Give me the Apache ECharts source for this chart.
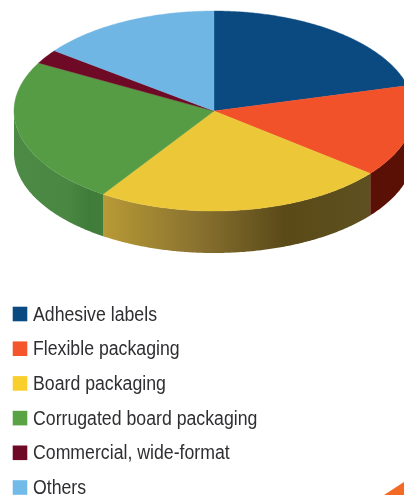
<!DOCTYPE html>
<html><head><meta charset="utf-8">
<style>html,body{margin:0;padding:0;background:#fff;overflow:hidden}#c{width:404px;height:495px}</style>
<script src="https://cdn.jsdelivr.net/npm/echarts@6/dist/echarts.min.js"></script>
</head><body><div id="c"></div>
<script>
const categories = ['Adhesive labels','Flexible packaging','Board packaging','Corrugated board packaging','Commercial, wide-format','Others'];
const shares = [20.9,14.8,23.6,23.6,2.3,14.7];
const topColors = ['#0a4a80','#f2522a','#ecc838','#569c45','#6f0a26','#70b6e4'];
const legendColors = ['#0a4a80','#f4552d','#f9cf2d','#5aa345','#6f0a26','#72bbe8'];
const wallStops = [
  [[0,'#06325a'],[1,'#06325a']],
  [[0,'#5a1005'],[1,'#5a1005']],
  [[0,'#b89a35'],[0.35,'#8a7230'],[0.68,'#5a4a18'],[1,'#5e5020']],
  [[0,'#4d8a45'],[0.6,'#4a8743'],[0.85,'#3f7c3a'],[1,'#437d3c']],
  [[0,'#4a0618'],[1,'#4a0618']],
  [[0,'#4f84a8'],[1,'#4f84a8']]
];
const CX=214, CY=111, RX=200, RY=100, DEPTH=42;
const total = shares.reduce((a,b)=>a+b,0);
const pt=(deg,dy)=>{const r=deg*Math.PI/180;return [CX+RX*Math.sin(r),CY-RY*Math.cos(r)+(dy||0)];};
const arc=(a,b,dy)=>{const p=[];const n=Math.max(2,Math.ceil((b-a)*2));for(let i=0;i<=n;i++)p.push(pt(a+(b-a)*i/n,dy));return p;};
let acc=0;
const series=categories.map((name,i)=>{
  const start=acc/total*360; acc+=shares[i]; const end=acc/total*360;
  return {
    type:'custom',name,coordinateSystem:'none',animation:false,silent:true,
    itemStyle:{color:topColors[i]},
    data:[shares[i]],
    renderItem(){
      const children=[];
      const a=Math.max(start,90), b=Math.min(end,270);
      if(b>a){
        const rim=arc(a,b,0), low=arc(a,b,DEPTH).reverse();
        children.push({type:'polygon',shape:{points:rim.concat(low)},
          style:{fill:{type:'linear',x:0,y:0,x2:1,y2:0,
            colorStops:wallStops[i].map(s=>({offset:s[0],color:s[1]}))},stroke:null}});
      }
      children.push({type:'polygon',shape:{points:[[CX,CY]].concat(arc(start,end,0))},
        style:{fill:topColors[i],stroke:topColors[i],lineWidth:0.4}});
      return {type:'group',children};
    }
  };
});
const legendEls=[];
categories.forEach((name,i)=>{
  const mid=314+34.7*i;
  legendEls.push({type:'rect',shape:{x:12.7,y:mid-7.3,width:14.6,height:14.6},style:{fill:legendColors[i]},silent:true});
  legendEls.push({type:'text',x:33,y:mid+1,scaleX:0.885,silent:true,
    style:{text:name,fontFamily:'"Liberation Sans",sans-serif',fontSize:20,fill:'#2f2f33',verticalAlign:'middle',align:'left'}});
});
const chart=echarts.init(document.getElementById('c'),null,{renderer:'canvas'});
chart.setOption({
  backgroundColor:'#fff',
  animation:false,
  series,
  graphic:legendEls.concat([{type:'polygon',shape:{points:[[384,495],[404,482],[404,495]]},style:{fill:'#f26a24'},silent:true}])
});
</script></body></html>
